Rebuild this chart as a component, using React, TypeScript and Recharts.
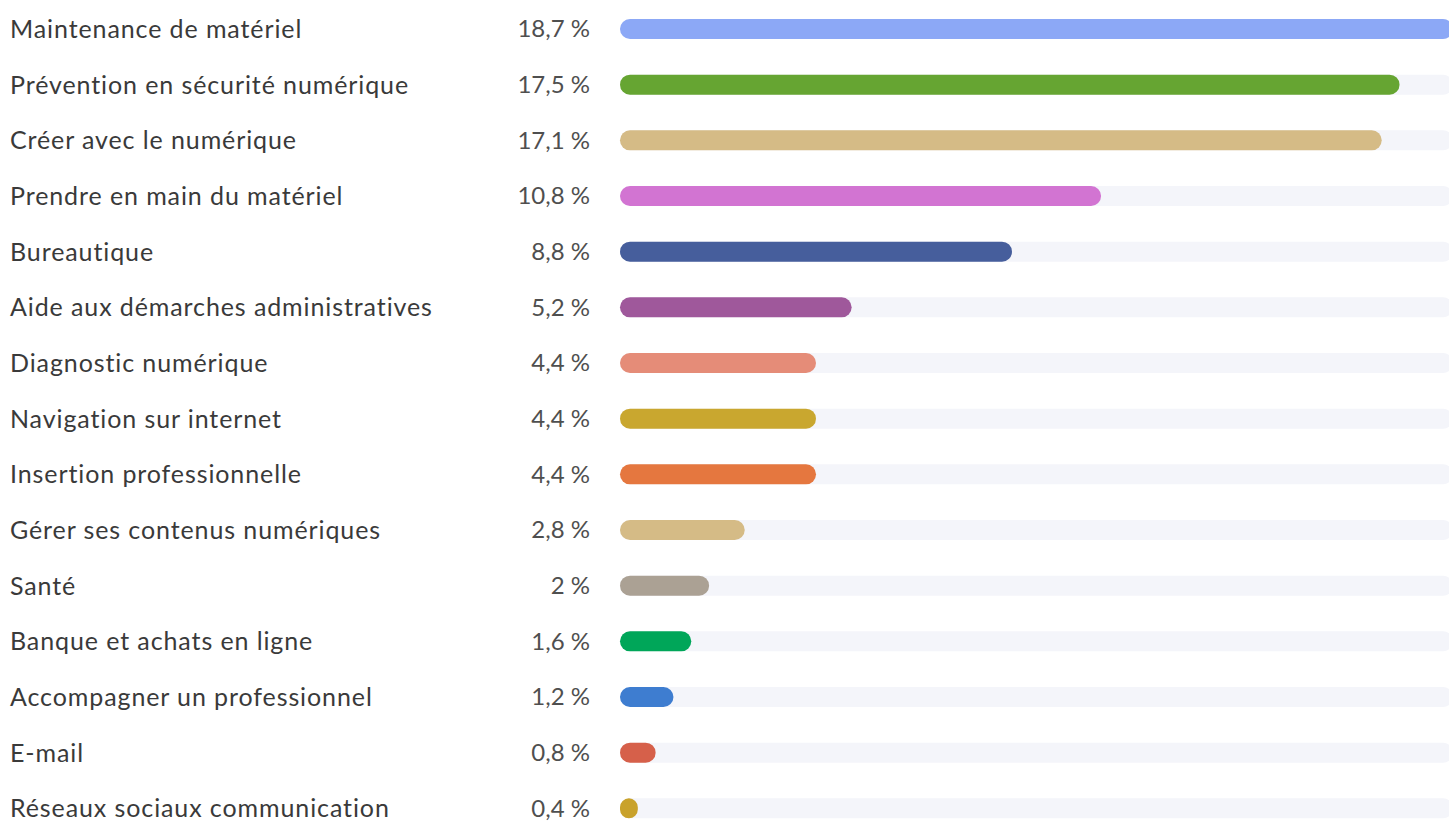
import React from 'react';
import { BarChart, Bar, XAxis, YAxis, Cell } from 'recharts';

const categories = [
  'Maintenance de matériel',
  'Prévention en sécurité numérique',
  'Créer avec le numérique',
  'Prendre en main du matériel',
  'Bureautique',
  'Aide aux démarches administratives',
  'Diagnostic numérique',
  'Navigation sur internet',
  'Insertion professionnelle',
  'Gérer ses contenus numériques',
  'Santé',
  'Banque et achats en ligne',
  'Accompagner un professionnel',
  'E-mail',
  'Réseaux sociaux communication',
];

const shares = [18.7, 17.5, 17.1, 10.8, 8.8, 5.2, 4.4, 4.4, 4.4, 2.8, 2, 1.6, 1.2, 0.8, 0.4];

const barColors = [
  '#8ca8f6', '#66a532', '#d5bb86', '#d274d2', '#465e9c',
  '#9f589b', '#e58c78', '#c9a72f', '#e5773f', '#d5bb86',
  '#aba194', '#00a659', '#3e7dd0', '#d6604a', '#c9a22b',
];

const data = categories.map((name, i) => ({ name, value: shares[i] }));

const fmt = (v: number) => `${String(v).replace('.', ',')} %`;

const font = 'Lato, "Noto Sans", sans-serif';

const RowTick = (props: any) => {
  const { y, payload, index } = props;
  return (
    <g>
      <text x={10} y={y} dy={9} fontSize={25} letterSpacing={0.9} fill="#3a3a3a" fontFamily={font} textAnchor="start">
        {payload.value}
      </text>
      <text x={590} y={y} dy={8.5} fontSize={24} fill="#4f4f4f" fontFamily={font} textAnchor="end">
        {fmt(shares[index])}
      </text>
    </g>
  );
};

export default function App() {
  return (
    <div style={{ position: 'absolute', left: 0, top: 0, width: 1449, height: 822, overflow: 'hidden', background: '#fff' }}>
      <BarChart
        layout="vertical"
        width={1453}
        height={836}
        data={data}
        margin={{ top: 1, right: 0, bottom: 0, left: 0 }}
        barCategoryGap={0}
      >
        <XAxis type="number" domain={[0, 18.7]} hide />
        <YAxis
          type="category"
          dataKey="name"
          width={620}
          axisLine={false}
          tickLine={false}
          tick={<RowTick />}
          interval={0}
        />
        <Bar
          dataKey="value"
          barSize={20}
          radius={10}
          background={{ fill: '#f4f5fa', radius: 10 } as any}
          isAnimationActive={false}
        >
          {data.map((d, i) => (
            <Cell key={d.name} fill={barColors[i]} />
          ))}
        </Bar>
      </BarChart>
    </div>
  );
}
